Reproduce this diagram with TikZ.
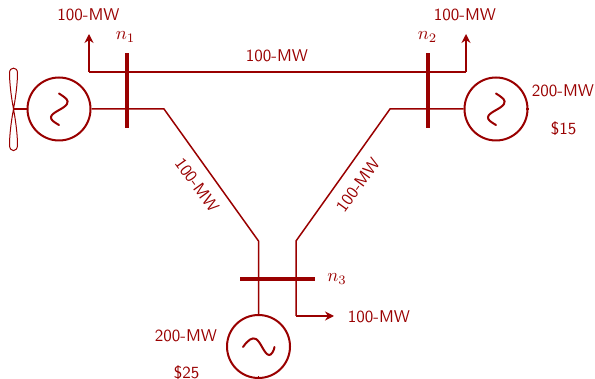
\documentclass[tikz,border=0pt]{standalone}
\usetikzlibrary{arrows.meta}
\definecolor{dred}{RGB}{153,0,0}
\newcommand{\lbtxt}[1]{\scalebox{1.7}{\sffamily #1}}
\newcommand{\nbtxt}[1]{\scalebox{1.85}{$#1$}}
\tikzset{
  wire/.style={draw=dred,line width=1.5pt,line join=miter},
  arrowwire/.style={wire,-{Stealth[length=9pt,width=9pt,inset=3pt]}},
  busbar/.style={fill=dred,draw=none,inner sep=0pt,rectangle},
  gen/.style={circle,draw=dred,line width=2pt,minimum size=63pt,inner sep=0pt},
  wave/.style={draw=dred,line width=2pt,line cap=round},
  lab/.style={text=dred,inner sep=0pt},
  nlab/.style={text=dred,inner sep=0pt}
}
\begin{document}
\begin{tikzpicture}[x=1pt,y=-1pt]
\useasboundingbox (0,0) rectangle (595,379);
% nodes
\node[gen] (g1) at (59,109) {};
\node[gen] (g2) at (496,109) {};
\node[gen] (g3) at (258.5,346.5) {};
\node[busbar,minimum width=4.5pt,minimum height=75pt] (b1) at (127,90.5) {};
\node[busbar,minimum width=4.5pt,minimum height=75pt] (b2) at (428,90.5) {};
\node[busbar,minimum width=75pt,minimum height=4.5pt] (b3) at (277.5,279) {};
% anchors
\coordinate (w1) at (164,109);
\coordinate (w2) at (258.5,241);
\coordinate (w3) at (390,109);
\coordinate (w4) at (296,241);
\coordinate (tl) at (89,72);
\coordinate (tr) at (466,72);
\coordinate (al) at (89,34);
\coordinate (ar) at (466,34);
\coordinate (cr) at (296,316);
\coordinate (ad) at (334,316);
\coordinate (hub) at (13.5,109);
% wires
\draw[wire] (g1.east) -- (w1) -- (w2) -- (g3.north);
\draw[wire] (g2.west) -- (w3) -- (w4) -- (cr);
\draw[arrowwire] (cr) -- (ad);
\draw[wire] (tl) -- (tr);
\draw[arrowwire] (tl) -- (al);
\draw[arrowwire] (tr) -- (ar);
\draw[wire] (hub) -- (g1.west);
% ticks
\draw[wire] (g2.east) -- ++(-3,0);
\draw[wire] (g3.south) -- ++(0,-3);
% turbine blades
\draw[draw=dred,line width=1pt] (hub) .. controls (10,90) and (9.5,78) .. (9.5,73) .. controls (9.5,66.5) and (17.5,66.5) .. (17.5,73) .. controls (17.5,78) and (17,90) .. (hub);
\draw[draw=dred,line width=1pt] (hub) .. controls (10,128) and (9.5,140) .. (9.5,145) .. controls (9.5,152.5) and (17.5,152.5) .. (17.5,145) .. controls (17.5,140) and (17,128) .. (hub);
% waves
\draw[wave] (59,93.5) .. controls (66,98) and (69,100) .. (67,104) .. controls (64,109) and (52,112) .. (51,117) .. controls (50.5,120) and (54,122) .. (59,125);
\draw[wave] (496,93.5) .. controls (503,98) and (506,100) .. (504,104) .. controls (501,109) and (489,112) .. (488,117) .. controls (487.5,120) and (491,122) .. (496,125);
\draw[wave] (243,347) .. controls (248,340) and (252,337) .. (256,339) .. controls (261,342) and (264,354) .. (269,355) .. controls (271,355.5) and (274,351) .. (274.5,347);
% labels
\node[lab] (t1) at (88.5,15) {\lbtxt{100-MW}};
\node[lab] (t2) at (465,15) {\lbtxt{100-MW}};
\node[lab] (t3) at (277,56) {\lbtxt{100-MW}};
\node[lab] (t4) at (563,91) {\lbtxt{200-MW}};
\node[lab] (t5) at (563.5,129) {\lbtxt{\$15}};
\node[lab,rotate=-54] (t6) at (197,185) {\lbtxt{100-MW}};
\node[lab,rotate=54] (t7) at (358,185) {\lbtxt{100-MW}};
\node[lab] (t8) at (379,317) {\lbtxt{100-MW}};
\node[lab] (t9) at (186,336) {\lbtxt{200-MW}};
\node[lab] (t10) at (186.5,373) {\lbtxt{\$25}};
\node[nlab] (n1) at (125.5,37) {\nbtxt{n_1}};
\node[nlab] (n2) at (427.5,37) {\nbtxt{n_2}};
\node[nlab] (n3) at (337,279) {\nbtxt{n_3}};
\end{tikzpicture}
\end{document}
